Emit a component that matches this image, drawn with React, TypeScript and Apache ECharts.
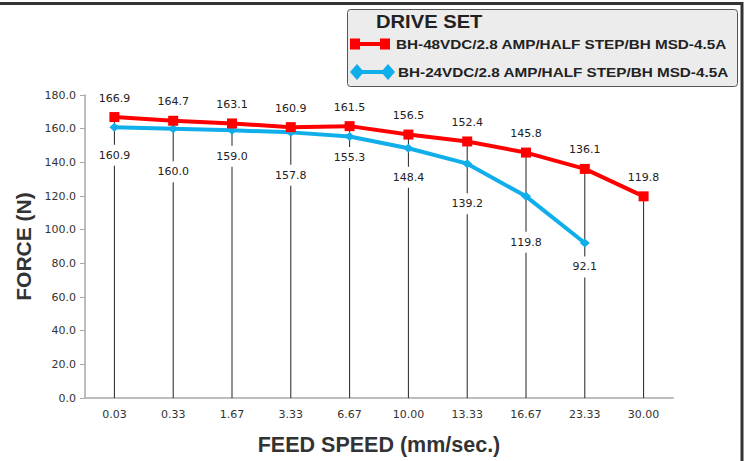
import React, { useEffect, useRef } from "react";
import * as echarts from "echarts";

const categories = ["0.03", "0.33", "1.67", "3.33", "6.67", "10.00", "13.33", "16.67", "23.33", "30.00"];
const series48 = [166.9, 164.7, 163.1, 160.9, 161.5, 156.5, 152.4, 145.8, 136.1, 119.8];
const series24 = [160.9, 160.0, 159.0, 157.8, 155.3, 148.4, 139.2, 119.8, 92.1, null];
const yTicks = { min: 0, max: 180, interval: 20 };
const legendTitle = "DRIVE SET";
const name48 = "BH-48VDC/2.8 AMP/HALF STEP/BH MSD-4.5A";
const name24 = "BH-24VDC/2.8 AMP/HALF STEP/BH MSD-4.5A";

const RED = "#ff0000";
const BLUE = "#10aeea";

export default function App() {
  const ref = useRef<HTMLDivElement>(null);
  useEffect(() => {
    if (!ref.current) return;
    const chart = echarts.init(ref.current, undefined, { renderer: "svg" });
    const blueDy = [28, 43, 26, 43, 21, 29, 40, 46, 24];
    const dropTop = categories.map((_, i) =>
      Math.max(series48[i] ?? 0, series24[i] ?? 0)
    );
    const numFont = "DejaVu Sans, Verdana, sans-serif";
    const boldFont = "Liberation Sans, Arial, sans-serif";
    chart.setOption({
      animation: false,
      backgroundColor: "#ffffff",
      grid: { left: 85, top: 95, right: 74, bottom: 61, containLabel: false },
      xAxis: {
        type: "category",
        data: categories,
        boundaryGap: true,
        name: "FEED SPEED (mm/sec.)",
        nameLocation: "middle",
        nameGap: 36,
        nameTextStyle: { fontFamily: boldFont, fontWeight: "bold", fontSize: 21.5, color: "#333" },
        axisLine: { lineStyle: { color: "#bdbdbd", width: 2 } },
        axisTick: { show: false },
        axisLabel: { interval: 0, margin: 11, fontFamily: numFont, fontSize: 11, color: "#333" },
        splitLine: { show: false },
      },
      yAxis: {
        type: "value",
        min: yTicks.min,
        max: yTicks.max,
        interval: yTicks.interval,
        name: "FORCE (N)",
        nameLocation: "middle",
        nameGap: 48,
        nameTextStyle: { fontFamily: boldFont, fontWeight: "bold", fontSize: 21, color: "#333" },
        axisLine: { show: true, lineStyle: { color: "#a8a8a8", width: 1.5 } },
        axisTick: { show: true, length: 5, lineStyle: { color: "#a8a8a8" } },
        axisLabel: {
          margin: 9,
          fontFamily: numFont,
          fontSize: 11,
          color: "#333",
          formatter: (v: number) => v.toFixed(1),
        },
        splitLine: { show: false },
      },
      series: [
        {
          type: "bar",
          data: dropTop,
          barWidth: 1,
          itemStyle: { color: "#222" },
          z: 1,
          silent: true,
        },
        {
          name: name24,
          type: "line",
          data: series24.map((v, i) => ({
            value: v,
            label: { offset: [0, blueDy[i] ?? 25] },
          })),
          symbol: "diamond",
          symbolSize: [10, 9],
          lineStyle: { color: BLUE, width: 4 },
          itemStyle: { color: BLUE },
          z: 3,
          label: {
            show: true,
            position: "inside",
            formatter: (p: any) => (p.value == null ? "" : Number(p.value).toFixed(1)),
            fontFamily: numFont,
            fontSize: 11,
            color: "#222",
            backgroundColor: "#ffffff",
            padding: [5, 2],
          },
        },
        {
          name: name48,
          type: "line",
          data: series48,
          symbol: "rect",
          symbolSize: 10,
          lineStyle: { color: RED, width: 4 },
          itemStyle: { color: RED },
          z: 4,
          label: {
            show: true,
            position: "inside",
            offset: [0, -19],
            formatter: (p: any) => Number(p.value).toFixed(1),
            fontFamily: numFont,
            fontSize: 11,
            color: "#222",
          },
        },
      ],
      graphic: [
        { type: "line", shape: { x1: 0, y1: 3.5, x2: 743, y2: 3.5 }, style: { stroke: "#333", lineWidth: 3 } },
        { type: "line", shape: { x1: 742, y1: 2, x2: 742, y2: 461 }, style: { stroke: "#333", lineWidth: 3 } },
        {
          type: "rect",
          shape: { x: 347.5, y: 9.5, width: 390, height: 77, r: 3 },
          style: { fill: "#ececec", stroke: "#555", lineWidth: 1 },
        },
        {
          type: "text",
          x: 376,
          y: 22,
          scaleX: 1.12,
          style: {
            text: legendTitle,
            fontFamily: boldFont,
            fontWeight: "bold",
            fontSize: 18,
            fill: "#222",
            verticalAlign: "middle",
          },
        },
        { type: "line", shape: { x1: 355, y1: 44, x2: 386, y2: 44 }, style: { stroke: RED, lineWidth: 4 } },
        { type: "rect", shape: { x: 350, y: 38.5, width: 10, height: 11 }, style: { fill: RED } },
        { type: "rect", shape: { x: 380, y: 38.5, width: 10, height: 11 }, style: { fill: RED } },
        {
          type: "text",
          x: 396,
          y: 44,
          scaleX: 1.175,
          style: {
            text: name48,
            fontFamily: boldFont,
            fontWeight: "bold",
            fontSize: 13,
            fill: "#222",
            verticalAlign: "middle",
          },
        },
        { type: "line", shape: { x1: 356, y1: 72, x2: 389, y2: 72 }, style: { stroke: BLUE, lineWidth: 4 } },
        {
          type: "polygon",
          shape: { points: [[350, 72], [357, 64], [364, 72], [357, 80]] },
          style: { fill: BLUE },
        },
        {
          type: "polygon",
          shape: { points: [[381, 72], [388, 64], [395, 72], [388, 80]] },
          style: { fill: BLUE },
        },
        {
          type: "text",
          x: 398,
          y: 72,
          scaleX: 1.175,
          style: {
            text: name24,
            fontFamily: boldFont,
            fontWeight: "bold",
            fontSize: 13,
            fill: "#222",
            verticalAlign: "middle",
          },
        },
      ],
    });
    return () => chart.dispose();
  }, []);
  return <div ref={ref} style={{ width: 747, height: 461, position: "fixed", left: 0, top: 0 }} />;
}
